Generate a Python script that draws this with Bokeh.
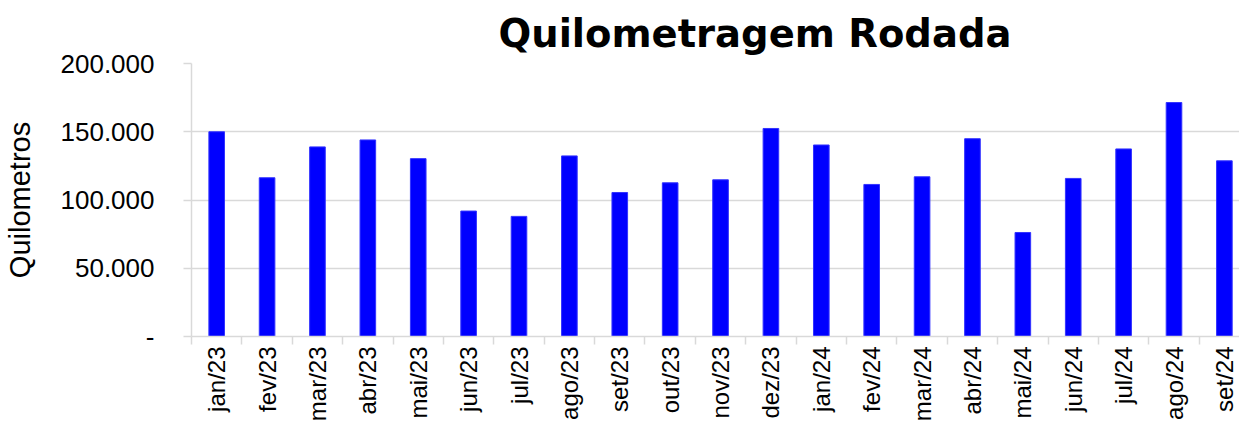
import math
from bokeh.plotting import figure
from bokeh.models import Range1d, FixedTicker, Title, ColumnDataSource
from bokeh.embed import file_html
from bokeh.resources import INLINE

months = ["jan/23", "fev/23", "mar/23", "abr/23", "mai/23", "jun/23", "jul/23",
          "ago/23", "set/23", "out/23", "nov/23", "dez/23", "jan/24", "fev/24",
          "mar/24", "abr/24", "mai/24", "jun/24", "jul/24", "ago/24", "set/24"]
km = [150000, 116300, 138900, 144000, 130300, 91900, 88000,
      132300, 105500, 112600, 114800, 152400, 140300, 111400,
      117000, 144900, 76200, 115800, 137400, 171400, 128700]
y_ticks = [0, 50000, 100000, 150000, 200000]
y_labels = ["-", "50.000", "100.000", "150.000", "200.000"]

xs = list(range(len(months)))
src = ColumnDataSource(dict(x=xs, top=km))

p = figure(width=1239, height=424, output_backend="svg", toolbar_location=None,
           x_range=Range1d(-0.5, 20.3), y_range=Range1d(0, 200000),
           min_border_left=0, min_border_right=0, min_border_top=0, min_border_bottom=0)
p.outline_line_color = None
p.background_fill_color = "white"

p.vbar(x="x", top="top", width=0.31, source=src, fill_color="#0000ff",
       line_color="#3333ff", line_width=1)

grey = "#d9d9d9"
label_font = "Liberation Sans"

# y axis
p.yaxis.ticker = FixedTicker(ticks=y_ticks)
p.yaxis.major_label_overrides = {t: l for t, l in zip(y_ticks, y_labels)}
p.yaxis.axis_line_color = grey
p.yaxis.axis_line_width = 1.5
p.yaxis.major_tick_line_color = grey
p.yaxis.major_tick_line_width = 1.5
p.yaxis.major_tick_out = 8
p.yaxis.major_tick_in = 0
p.yaxis.minor_tick_line_color = None
p.yaxis.major_label_standoff = 29
p.yaxis.major_label_text_font = label_font
p.yaxis.major_label_text_font_size = "26px"
p.yaxis.major_label_text_color = "black"
p.yaxis.axis_label = "Quilometros"
p.yaxis.axis_label_text_font = label_font
p.yaxis.axis_label_text_font_size = "29px"
p.yaxis.axis_label_text_font_style = "normal"
p.yaxis.axis_label_text_color = "black"
p.yaxis.axis_label_standoff = 22

# x axis
p.xaxis.ticker = FixedTicker(ticks=xs, minor_ticks=[i - 0.5 for i in range(len(months) + 1)])
p.xaxis.major_label_overrides = {i: m for i, m in enumerate(months)}
p.xaxis.major_label_orientation = math.pi / 2
p.xaxis.axis_line_color = grey
p.xaxis.axis_line_width = 1.5
p.xaxis.major_tick_line_color = None
p.xaxis.major_tick_out = 8
p.xaxis.major_tick_in = 0
p.xaxis.minor_tick_line_color = grey
p.xaxis.minor_tick_line_width = 1.5
p.xaxis.minor_tick_out = 8
p.xaxis.minor_tick_in = 0
p.xaxis.major_label_standoff = 2
p.xaxis.major_label_text_font = label_font
p.xaxis.major_label_text_font_size = "24px"
p.xaxis.major_label_text_color = "black"

# grid
p.xgrid.grid_line_color = None
p.ygrid.ticker = FixedTicker(ticks=y_ticks)
p.ygrid.grid_line_color = grey
p.ygrid.grid_line_width = 1.5

p.title = Title(text="Quilometragem Rodada", align="left", offset=307,
                text_font="DejaVu Sans", text_font_style="bold",
                text_font_size="38.5px", text_color="black", standoff=16)

open("out.html", "w").write(file_html(p, INLINE))
